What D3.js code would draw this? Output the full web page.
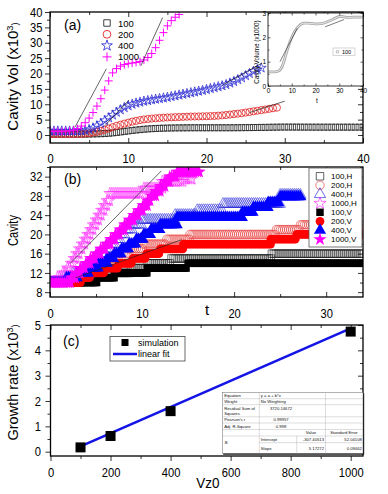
<!DOCTYPE html>
<html>
<head>
<meta charset="utf-8">
<script src="https://cdn.jsdelivr.net/npm/d3@7"></script>
<style>
  body { margin: 0; background: #fff; }
  svg { display: block; font-family: "Liberation Sans", Arial, sans-serif; }
</style>
</head>
<body>
<script>
// ---- panel (a): cavity volume (x10^3) against t, read every 0.5
var tHalf = [0,0.5,1,1.5,2,2.5,3,3.5,4,4.5,5,5.5,6,6.5,7,7.5,8,8.5,9,9.5,10,10.5,11,11.5,12,12.5,13,13.5,14,14.5,
  15,15.5,16,16.5,17,17.5,18,18.5,19,19.5,20,20.5,21,21.5,22,22.5,23,23.5,24,24.5,25,25.5,26,26.5,27,27.5,28,28.5,29,29.5,
  30,30.5,31,31.5,32,32.5,33,33.5,34,34.5,35,35.5,36,36.5,37,37.5,38,38.5,39,39.5,40];

var vol100 = [0.3,0.3,0.3,0.3,0.3,0.3,0.3,0.3,0.3,0.3,
  0.32,0.35,0.38,0.42,0.48,0.56,0.68,0.82,0.98,1.15,
  1.32,1.48,1.62,1.75,1.87,1.97,2.05,2.12,2.18,2.22,
  2.25,2.28,2.3,2.32,2.33,2.34,2.35,2.35,2.35,2.35,
  2.35,2.35,2.35,2.35,2.35,2.35,2.35,2.36,
  2.37,2.38,2.4,2.41,2.43,2.45,2.47,2.49,2.51,2.53,
  2.55,2.57,2.58,2.58,2.58,2.57,2.57,2.56,2.56,2.55,
  2.55,2.55,2.55,2.55,2.55,2.55,2.55,2.55,2.55,2.55,2.55,2.55,2.55];
var vol200 = [0.3,0.3,0.3,0.3,0.3,0.3,0.3,
  0.32,0.36,0.45,0.6,0.8,1.05,1.35,1.7,2.1,2.55,
  3.0,3.35,3.7,4.0,4.35,4.6,4.85,5.05,5.2,5.35,
  5.45,5.55,5.62,5.7,5.75,5.8,5.85,5.9,5.95,6.0,
  6.02,6.05,6.08,6.1,6.15,6.2,6.28,6.38,6.5,6.65,
  6.8,6.95,7.1,7.3,7.5,7.7,7.9,8.1,8.3,8.5,8.7,8.9];
var vol400 = [1.3,1.3,1.3,1.3,1.3,1.3,1.3,1.3,
  1.35,1.5,1.8,2.3,3.0,3.8,4.7,5.6,6.5,7.4,
  8.2,8.9,9.5,10.0,10.4,10.7,11.0,11.2,11.45,11.65,
  11.85,12.05,12.25,12.5,12.75,13.0,13.25,13.5,13.75,14.0,
  14.25,14.5,14.8,15.1,15.4,15.7,16.0,16.4,16.9,17.4,
  18.0,18.6,19.3,20.0,20.7,21.3,21.8];
var vol1000 = [1.2,1.2,1.2,1.2,1.25,1.35,1.6,2.1,2.9,4.0,
  5.5,7.3,9.4,11.8,14.6,17.6,20.2,21.6,22.4,22.9,
  23.2,23.4,23.6,23.9,24.4,25.2,26.5,28.4,30.8,33.3,
  35.5,37.2,38.3,39.2];
// straight fit segments drawn over (a): t0, v0, t1, v1
var fitA = [[3.2,2.6,7.2,21.5],[11.6,22.5,14.4,38.2],[7.0,3.0,10.1,11.4],[22.1,16.3,27.1,23.4],[25.5,7.3,30,11]];

// inset of (a): series 100, cavity volume (x1000)
var tInset = [0,1,2,3,4,5,6,7,8,9,10,11,12,13,14,15,16,17,18,19,20,21,22,23,24,25,26,27,28,29,30,31,32,33,34,35,36,37,38,39,40];
var volInset = [0.58,0.58,0.58,0.58,0.6,0.65,0.8,1.1,1.45,1.75,2.0,2.2,2.35,2.47,2.55,2.58,2.58,2.58,2.57,2.56,
  2.55,2.55,2.56,2.57,2.6,2.64,2.68,2.72,2.77,2.82,2.86,2.86,2.84,2.82,2.82,2.82,2.83,2.83,2.83,2.83,2.83];
var fitInset = [[5.05,1.0,12.3,2.37],[24,2.43,32,2.73]];

// ---- panel (b): number of cavities, steps as [t, value] (last pair = end)
var cav100H = [[0,10],[3.4,11],[5.2,12],[8.8,13],[10.6,14],[13.2,15],[24.1,16],[34,16]];
var cav200H = [[0,10],[2.5,11],[3.5,12],[4.5,13],[5.5,14],[6.5,15],[7.5,16],[8.5,17],[10.1,18],[12.7,19],[15.2,20],[24.6,21],[27.2,22],[34,22]];
var cav400H = [[0,10],[1.5,11],[2.5,12],[3.5,13],[4.3,14],[5,15],[5.6,16],[6.1,17],[6.6,18],[7.1,19],[7.6,20],[8.2,21],[9,22],[10,23],[13.6,24],[16,25],[18.8,26.3],[25,28.2],[27.2,28.2]];
var cav1000H = [[0,10],[0.8,11],[1.4,12],[1.9,13],[2.3,14],[2.6,15],[2.9,16],[3.2,17],[3.5,18],[3.8,19],[4.1,20],[4.4,21],[4.7,22],[5,23],[5.3,24],[5.6,25],[5.9,26],[6.2,27],[6.5,28.5],[10.2,29.6],[12.2,31],[14.6,31.5],[15.4,31.5]];
var cav100V = [[0,10],[5.2,11],[7,12],[10.6,13],[15,14],[34,14]];
var cav200V = [[0,10],[3.4,11],[4.5,12],[6,13],[7.5,14],[9,15],[10.5,16],[12,17],[14.5,18],[24,19],[26.8,20],[34,20]];
var cav400V = [[0,10],[1.8,11],[3,12],[4.3,13],[5.3,14],[6.2,15],[7,16],[7.8,17],[8.6,18],[9.4,19],[10.2,20],[11,21],[12,22],[13.8,23.5],[20.9,24.6],[22.1,25.6],[23.7,26.6],[25,27.8],[27.2,27.8]];
var cav1000V = [[0,10],[2.3,11],[2.8,12],[3.3,13],[3.9,14],[4.4,15],[5,16],[5.5,17],[6.1,18],[6.6,19],[7.1,20],[7.6,21],[8.1,22],[8.6,23],[9.1,24],[9.6,25],[10.1,26],[10.6,27],[11,28],[11.5,29],[12,30],[12.5,31],[13,32],[13.8,33],[16.2,33]];
var fitB = [[2.2,14,12.1,33.2],[2.8,11,14.3,18.9]];

// ---- panel (c): growth rate (x10^3) against Vz0
var vz0 = [100, 200, 400, 1000];
var growth = [0.17, 0.62, 1.6, 4.74];
var fitIntercept = -307.40513, fitSlope = 5.17272;   // per 10^3 on the axis
var fitInfo = [["Equation", "y = a + b*x"], ["Weight", "No Weighting"], ["Residual Sum of|Squares", "3720.14672"],
  ["Pearson's r", "0.99957"], ["Adj. R-Square", "0.998"]];
var fitParams = [["Intercept", "-307.40513", "52.04108"], ["Slope", "5.17272", "0.09462"]];

var svg = d3.select("body").append("svg").attr("width", 388).attr("height", 494);
svg.append("rect").attr("width", 388).attr("height", 494).attr("fill", "#fff");

var shapes = {
  square: function(s) { return d3.symbol(d3.symbolSquare, s)(); },
  circle: function(s) { return d3.symbol(d3.symbolCircle, s)(); },
  triangle: function(s) { return d3.symbol(d3.symbolTriangle, s)(); },
  star: function(s) { return d3.symbol(d3.symbolStar, s)(); },
  plus: function(s) { return "M" + (-s) + ",0H" + s + "M0," + (-s) + "V" + s; }
};

function drawAxes(x, y, o) {
  var g = svg.append("g");
  var L = x.range()[0], R = x.range()[1], B = y.range()[0], T = y.range()[1];
  function ax(gen, tr, vals, size, pad, fmt) {
    var a = g.append("g").attr("transform", tr)
      .call(gen.tickValues(vals).tickSize(size).tickSizeOuter(0).tickPadding(pad)
        .tickFormat(fmt || function() { return ""; }));
    a.select(".domain").remove();
    a.attr("font-family", null).attr("font-size", o.fs);
    a.selectAll("line").attr("stroke", "#000").attr("stroke-width", o.tw || 0.8);
    return a;
  }
  var bs = o.xOut ? o.maj : -o.maj, bm = o.xOut ? o.min : -o.min;
  var ls = o.leftOut ? o.maj : -o.maj, lm = o.leftOut ? o.min : -o.min;
  var bot = ax(d3.axisBottom(x), "translate(0," + B + ")", o.xMajor, bs, o.xPad, o.xFmt || d3.format("d"));
  ax(d3.axisBottom(x), "translate(0," + B + ")", o.xMinor, bm, 0);
  ax(d3.axisTop(x), "translate(0," + T + ")", o.xMajor, -o.maj, 0);
  ax(d3.axisTop(x), "translate(0," + T + ")", o.xMinor, -o.min, 0);
  var left = ax(d3.axisLeft(y), "translate(" + L + ",0)", o.yMajor, ls, o.yPad, o.yFmt || d3.format("d"));
  ax(d3.axisLeft(y), "translate(" + L + ",0)", o.yMinor, lm, 0);
  ax(d3.axisRight(y), "translate(" + R + ",0)", o.yMajor, -o.maj, 0);
  ax(d3.axisRight(y), "translate(" + R + ",0)", o.yMinor, -o.min, 0);
  bot.selectAll("text").attr("transform", "scale(" + o.sx + ",1)");
  left.selectAll("text").attr("x", -(Math.max(ls, 0) + o.yPad) / o.sx).attr("transform", "scale(" + o.sx + ",1)");
  g.append("rect").attr("x", L).attr("y", T).attr("width", R - L).attr("height", B - T)
    .attr("fill", "none").attr("stroke", "#000").attr("stroke-width", o.fw || 1.3);
  return g;
}

function clipFor(id, x, y) {
  svg.append("clipPath").attr("id", id).append("rect")
    .attr("x", x.range()[0]).attr("y", y.range()[1])
    .attr("width", x.range()[1] - x.range()[0]).attr("height", y.range()[0] - y.range()[1]);
  return svg.append("g").attr("clip-path", "url(#" + id + ")");
}

function marks(g, pts, x, y, d, st) {
  g.append("g").selectAll("path").data(pts).enter().append("path")
    .attr("d", d)
    .attr("transform", function(p) { return "translate(" + x(p[0]) + "," + y(p[1]) + ")"; })
    .attr("fill", st.fill || "none").attr("stroke", st.stroke || "none").attr("stroke-width", st.sw || 0.8);
}

function segs(g, list, x, y, w) {
  g.append("g").selectAll("line").data(list).enter().append("line")
    .attr("x1", function(d) { return x(d[0]); }).attr("y1", function(d) { return y(d[1]); })
    .attr("x2", function(d) { return x(d[2]); }).attr("y2", function(d) { return y(d[3]); })
    .attr("stroke", "#222").attr("stroke-width", w);
}

function yTitle(cx, cy, parts, fs, sc) {
  var t = svg.append("text").attr("transform", "translate(" + cx + "," + cy + ") rotate(-90) scale(" + sc + ",1)")
    .attr("text-anchor", "middle").attr("font-size", fs);
  parts.forEach(function(p) {
    var s = t.append("tspan").text(p[0]);
    if (p[1]) s.attr("font-size", fs * 0.62).attr("dy", p[1]);
    if (p[2]) s.attr("dy", p[2]);
  });
}

// ================= panel (a)
var xA = d3.scaleLinear().domain([0, 40]).range([50, 363]);
var yA = d3.scaleLinear().domain([-2.6, 40]).range([143, 12]);
var gA = clipFor("clipA", xA, yA);
function halfPts(vals) { return d3.zip(tHalf.slice(0, vals.length), vals); }
marks(gA, halfPts(vol100), xA, yA, shapes.square(36), { stroke: "#111", sw: 0.7 });
marks(gA, halfPts(vol200), xA, yA, shapes.circle(40), { stroke: "#e02020", sw: 0.8 });
marks(gA, halfPts(vol400), xA, yA, shapes.star(30), { stroke: "#1f1fd0", sw: 0.7 });
marks(gA, halfPts(vol1000), xA, yA, shapes.plus(4), { stroke: "#ff00ff", sw: 1 });
segs(gA, fitA, xA, yA, 0.7);
drawAxes(xA, yA, { xMajor: [0, 10, 20, 30, 40], xMinor: [5, 15, 25, 35],
  yMajor: [0, 5, 10, 15, 20, 25, 30, 35, 40], yMinor: [2.5, 7.5, 12.5, 17.5, 22.5, 27.5, 32.5, 37.5],
  fs: 13, sx: 0.86, xPad: 10.4, yPad: 2.5, xOut: false, leftOut: true, maj: 5, min: 3 });
svg.append("text").attr("x", 64).attr("y", 29.5).attr("font-size", 14).text("(a)");

var legA = [["100", shapes.square(42), { stroke: "#111", sw: 0.8 }],
  ["200", shapes.circle(48), { stroke: "#e02020", sw: 0.9 }],
  ["400", shapes.star(36), { stroke: "#1f1fd0", sw: 0.8 }],
  ["1000", shapes.plus(4.5), { stroke: "#ff00ff", sw: 1 }]];
legA.forEach(function(l, i) {
  var yy = 23 + i * 11.3;
  svg.append("path").attr("d", l[1]).attr("transform", "translate(107," + yy + ")")
    .attr("fill", "none").attr("stroke", l[2].stroke).attr("stroke-width", l[2].sw);
  svg.append("text").attr("x", 118).attr("y", yy + 3.5).attr("font-size", 9.5).text(l[0]);
});
yTitle(17.5, 76.5, [["Cavity Vol (x10"], ["3", "-5"], [")", "5"]], 15, 1);

// inset
var xI = d3.scaleLinear().domain([0, 40]).range([268, 363]);
var yI = d3.scaleLinear().domain([0, 3]).range([86, 13]);
svg.append("rect").attr("x", 268).attr("y", 13).attr("width", 95).attr("height", 73).attr("fill", "#fff");
var lineI = d3.line().x(function(d) { return xI(d[0]); }).y(function(d) { return yI(d[1]); });
var inPts = d3.zip(tInset, volInset);
svg.append("path").attr("d", lineI(inPts)).attr("fill", "none").attr("stroke", "#a8a8a8").attr("stroke-width", 2.8);
svg.append("path").attr("d", lineI(inPts)).attr("fill", "none").attr("stroke", "#f2f2f2").attr("stroke-width", 0.9);
segs(svg, fitInset, xI, yI, 0.6);
drawAxes(xI, yI, { xMajor: [0, 10, 20, 30, 40], xMinor: [5, 15, 25, 35],
  yMajor: [0, 1, 2, 3], yMinor: [0.5, 1.5, 2.5],
  fs: 6.5, sx: 1, xPad: 2.5, yPad: 2, xOut: false, leftOut: false, maj: 2.5, min: 1.5, tw: 0.6, fw: 0.8 });
svg.append("text").attr("x", 317).attr("y", 103).attr("text-anchor", "middle").attr("font-size", 6.5).text("t");
yTitle(259, 52, [["Cavity Volume (x1000)"]], 6.3, 1);
svg.append("rect").attr("x", 333).attr("y", 48).attr("width", 22).attr("height", 7.5)
  .attr("fill", "#fff").attr("stroke", "#bbb").attr("stroke-width", 0.6);
svg.append("path").attr("d", shapes.square(5)).attr("transform", "translate(337.5,51.8)")
  .attr("fill", "none").attr("stroke", "#999").attr("stroke-width", 0.6);
svg.append("text").attr("x", 342).attr("y", 53.8).attr("font-size", 5.5).text("100");

// ================= panel (b)
var xB = d3.scaleLinear().domain([0, 34]).range([50, 363]);
var yB = d3.scaleLinear().domain([7, 34]).range([297, 167]);
var gB = clipFor("clipB", xB, yB);
function stepPts(steps, dt) {
  var pts = [];
  for (var i = 0; i < steps.length - 1; i++) {
    for (var t = steps[i][0]; t < steps[i + 1][0] - 1e-6; t += dt) pts.push([t, steps[i][1]]);
  }
  pts.push(steps[steps.length - 1]);
  return pts;
}
var seriesB = [
  ["100,H", cav100H, shapes.square(56), { stroke: "#222", sw: 0.6 }],
  ["200,H", cav200H, shapes.circle(56), { stroke: "#e84848", sw: 0.7 }],
  ["400,H", cav400H, shapes.triangle(56), { stroke: "#3030d8", sw: 0.6 }],
  ["1000,H", cav1000H, shapes.star(45), { stroke: "#ff30ff", sw: 0.6 }],
  ["100,V", cav100V, shapes.square(56), { fill: "#000" }],
  ["200,V", cav200V, shapes.circle(60), { fill: "#ff0000" }],
  ["400,V", cav400V, shapes.triangle(64), { fill: "#0000ff" }],
  ["1000,V", cav1000V, shapes.star(55), { fill: "#ff00ff" }]
];
seriesB.forEach(function(s) { marks(gB, stepPts(s[1], 0.22), xB, yB, s[2], s[3]); });
segs(gB, fitB, xB, yB, 0.7);
drawAxes(xB, yB, { xMajor: [0, 10, 20, 30], xMinor: [5, 15, 25],
  yMajor: [8, 12, 16, 20, 24, 28, 32], yMinor: [10, 14, 18, 22, 26, 30, 34],
  fs: 13, sx: 0.86, xPad: 11.4, yPad: 2.5, xOut: false, leftOut: true, maj: 5, min: 3 });
svg.append("text").attr("x", 64).attr("y", 184).attr("font-size", 14).text("(b)");
svg.append("text").attr("x", 207).attr("y", 315).attr("text-anchor", "middle").attr("font-size", 15).text("t");
yTitle(18, 230.5, [["Cavity"]], 14, 0.8);

var legB = svg.append("g");
legB.append("rect").attr("x", 309).attr("y", 168).attr("width", 53).attr("height", 79)
  .attr("fill", "#fff").attr("stroke", "#555").attr("stroke-width", 0.8);
seriesB.forEach(function(s, i) {
  var yy = 176.3 + i * 9;
  legB.append("path").attr("d", s[2]).attr("transform", "translate(320," + yy + ")")
    .attr("fill", s[3].fill || "none").attr("stroke", s[3].stroke || "none").attr("stroke-width", 0.7);
  legB.append("text").attr("x", 331).attr("y", yy + 3).attr("font-size", 8).text(s[0]);
});

// ================= panel (c)
var xC = d3.scaleLinear().domain([0, 1041]).range([50.5, 363]);
var yC = d3.scaleLinear().domain([-0.17, 5.0]).range([456, 325]);
var gC = clipFor("clipC", xC, yC);
var fitEnds = [vz0[0], vz0[vz0.length - 1]];
gC.append("line")
  .attr("x1", xC(fitEnds[0])).attr("y1", yC((fitIntercept + fitSlope * fitEnds[0]) / 1000))
  .attr("x2", xC(fitEnds[1])).attr("y2", yC((fitIntercept + fitSlope * fitEnds[1]) / 1000))
  .attr("stroke", "#1414e6").attr("stroke-width", 2.6);
marks(svg, d3.zip(vz0, growth), xC, yC, shapes.square(100), { fill: "#000" });
drawAxes(xC, yC, { xMajor: [0, 200, 400, 600, 800, 1000], xMinor: [100, 300, 500, 700, 900],
  yMajor: [0, 1, 2, 3, 4, 5], yMinor: [0.5, 1.5, 2.5, 3.5, 4.5],
  fs: 13, sx: 0.86, xPad: 7, yPad: 4.5, xOut: true, leftOut: true, maj: 5, min: 3 });
svg.append("text").attr("x", 63).attr("y", 345.5).attr("font-size", 14).text("(c)");
svg.append("text").attr("x", 208).attr("y", 488.5).attr("text-anchor", "middle").attr("font-size", 15)
  .attr("transform", "translate(208,0) scale(0.9,1) translate(-208,0)").text("Vz0");
yTitle(18, 382.5, [["Growth rate (x10"], ["3", "-5"], [")", "5"]], 14.5, 1);

var legC = svg.append("g");
legC.append("rect").attr("x", 110).attr("y", 336.5).attr("width", 75).attr("height", 24.5)
  .attr("fill", "#fff").attr("stroke", "#444").attr("stroke-width", 0.8);
legC.append("path").attr("d", shapes.square(49)).attr("transform", "translate(125,342.5)").attr("fill", "#000");
legC.append("text").attr("x", 138).attr("y", 345.5).attr("font-size", 9).text("simulation");
legC.append("line").attr("x1", 113).attr("x2", 137).attr("y1", 354).attr("y2", 354)
  .attr("stroke", "#1414e6").attr("stroke-width", 2.5);
legC.append("text").attr("x", 138).attr("y", 357).attr("font-size", 9).text("linear fit");

// fit report table
var tb = svg.append("g").attr("font-size", 4.2).attr("fill", "#111");
var tx0 = 222.7, tx1 = 259.3, tx2 = 296.7, tx3 = 325.5, tx4 = 363;
var rowY = [392.7, 398.7, 404.7, 416.8, 423, 429.5, 436, 442.7, 453.5];
tb.append("rect").attr("x", tx0).attr("y", rowY[0]).attr("width", tx4 - tx0).attr("height", rowY[8] - rowY[0])
  .attr("fill", "#fff").attr("stroke", "#666").attr("stroke-width", 0.5);
tb.append("line").attr("x1", tx0 + 0.5).attr("x2", tx4 + 0.8).attr("y1", rowY[8] + 0.6).attr("y2", rowY[8] + 0.6)
  .attr("stroke", "#222").attr("stroke-width", 1.2);
tb.append("line").attr("x1", tx4 + 0.6).attr("x2", tx4 + 0.6).attr("y1", rowY[0] + 0.5).attr("y2", rowY[8] + 1)
  .attr("stroke", "#222").attr("stroke-width", 1.2);
rowY.slice(1, 8).forEach(function(yy, i) {
  tb.append("line").attr("x1", i === 6 ? tx1 : tx0).attr("x2", tx4).attr("y1", yy).attr("y2", yy)
    .attr("stroke", "#aaa").attr("stroke-width", 0.4);
});
[[tx1, rowY[0], rowY[8]], [tx3, rowY[0], rowY[8]], [tx2, rowY[6], rowY[8]]].forEach(function(v) {
  tb.append("line").attr("x1", v[0]).attr("x2", v[0]).attr("y1", v[1]).attr("y2", v[2])
    .attr("stroke", "#aaa").attr("stroke-width", 0.4);
});
fitInfo.forEach(function(r, i) {
  var top = rowY[i], bot = rowY[i + 1], mid = (top + bot) / 2;
  var lines = r[0].split("|");
  lines.forEach(function(s, j) {
    tb.append("text").attr("x", tx0 + 1.5).attr("y", mid + 1.5 + (j - (lines.length - 1) / 2) * 4.6).text(s);
  });
  tb.append("text").attr("x", i < 2 ? tx1 + 1.5 : 281).attr("text-anchor", i < 2 ? "start" : "middle")
    .attr("y", (i === 2 ? top + 5.5 : mid + 1.5)).text(r[1]);
});
tb.append("text").attr("x", 311).attr("y", (rowY[5] + rowY[6]) / 2 + 1.5).attr("text-anchor", "middle").text("Value");
tb.append("text").attr("x", 344).attr("y", (rowY[5] + rowY[6]) / 2 + 1.5).attr("text-anchor", "middle").text("Standard Error");
tb.append("text").attr("x", tx0 + 2).attr("y", rowY[7] + 1.5).text("B");
fitParams.forEach(function(r, i) {
  var mid = (rowY[6 + i] + rowY[7 + i]) / 2 + 1.5;
  tb.append("text").attr("x", tx1 + 1.5).attr("y", mid).text(r[0]);
  tb.append("text").attr("x", tx3 - 1.5).attr("y", mid).attr("text-anchor", "end").text(r[1]);
  tb.append("text").attr("x", tx4 - 1.2).attr("y", mid).attr("text-anchor", "end").text(r[2]);
});
</script>
</body>
</html>
